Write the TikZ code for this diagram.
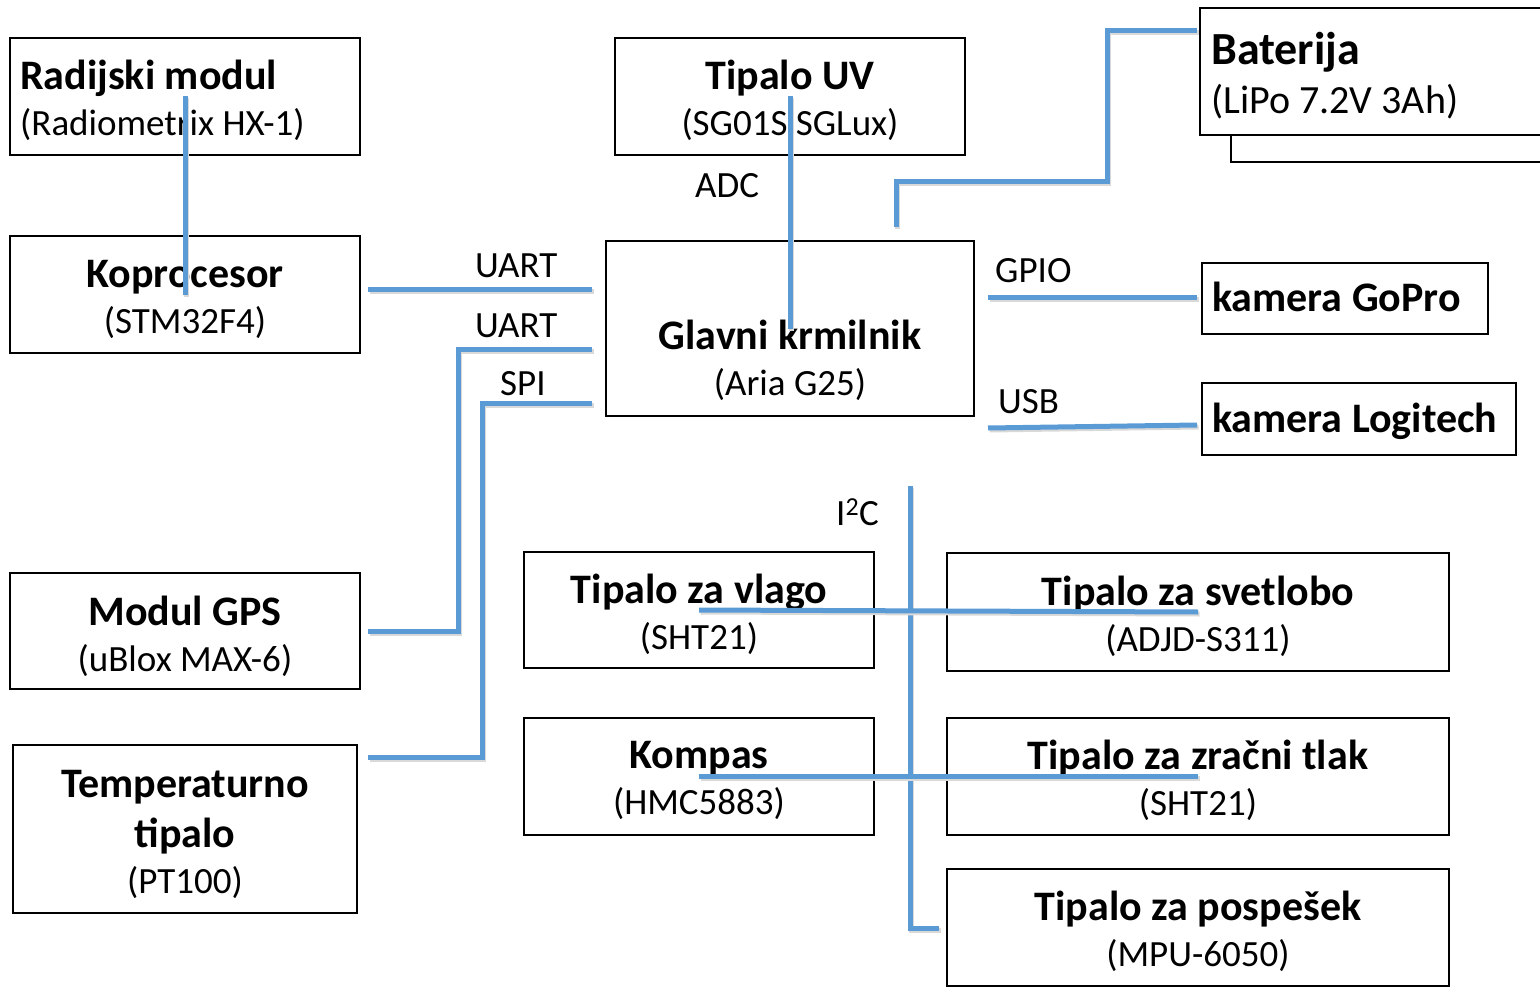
\documentclass[tikz,border=0pt]{standalone}
\usepackage{fontspec}
\setmainfont{Carlito}
\usetikzlibrary{calc}
\definecolor{busblue}{HTML}{5B9BD5}
\newcommand{\bt}{\fontsize{42}{46}\selectfont\bfseries}
\newcommand{\rt}{\fontsize{37}{46}\selectfont}
\newcommand{\btb}{\fontsize{46}{49}\selectfont\bfseries}
\newcommand{\rtb}{\fontsize{40}{49}\selectfont}
\begin{document}
\begin{tikzpicture}[x=1pt,y=-1pt,
  box/.style={draw=black,line width=2pt,rectangle,inner sep=0pt,fill=white},
  txt/.style={inner sep=0pt,align=center,font=\rt},
  lbl/.style={inner sep=0pt,anchor=base west,font=\rt},
  link/.style={draw=busblue,line width=5pt,
    preaction={draw=black!15,line width=5pt,transform canvas={shift={(1.5pt,-2pt)}}}}]
\useasboundingbox (0,0) rectangle (1540,987);

% boxes
\node[box,minimum width=319,minimum height=132] (batb) at (1390.5,96) {};
\node[box,minimum width=350,minimum height=127] (bat) at (1375,71.5) {};
\node[box,minimum width=350,minimum height=117] (rad) at (185,96.5) {};
\node[box,minimum width=350,minimum height=117] (kop) at (185,294.5) {};
\node[box,minimum width=350,minimum height=117] (uv) at (790,96.5) {};
\node[box,minimum width=368,minimum height=175] (glv) at (790,328.5) {};
\node[box,minimum width=286,minimum height=71] (gopro) at (1345,298.5) {};
\node[box,minimum width=314,minimum height=72] (logi) at (1359,419) {};
\node[box,minimum width=350,minimum height=116] (gps) at (185,631) {};
\node[box,minimum width=344,minimum height=168] (temp) at (185,829) {};
\node[box,minimum width=350,minimum height=116] (vlg) at (699,610) {};
\node[box,minimum width=502,minimum height=118] (svt) at (1198,612) {};
\node[box,minimum width=350,minimum height=117] (kmp) at (699,776.5) {};
\node[box,minimum width=502,minimum height=117] (zrk) at (1198,776.5) {};
\node[box,minimum width=502,minimum height=117] (psp) at (1198,927.5) {};

% box texts
\node[txt,anchor=west,align=left] (radt) at (20,100) {{\bt Radijski modul}\\{\rt (Radiometrix HX-1)}};
\node[txt] (kopt) at (185,299) {{\bt Koprocesor}\\{\rt (STM32F4)}};
\node[txt] (uvt) at (790,100) {{\bt Tipalo UV}\\{\rt (SG01S SGLux)}};
\node[txt] (glvt) at (790,360) {{\bt Glavni krmilnik}\\{\rt (Aria G25)}};
\node[txt,font=\rtb,anchor=west,align=left] (batt) at (1211,76) {{\btb Baterija}\\{\rtb (LiPo 7.2V 3Ah)}};
\node[inner sep=0pt,anchor=base west,font=\bt] (goprot) at (1212,312) {kamera GoPro};
\node[inner sep=0pt,anchor=base west,font=\bt] (logit) at (1212,432) {kamera Logitech};
\node[txt] (gpst) at (185,636) {{\bt Modul GPS}\\{\rt (uBlox MAX-6)}};
\node[txt] (tempt) at (185,834) {{\bt Temperaturno}\\[4pt]{\bt tipalo}\\{\rt (PT100)}};
\node[txt] (vlgt) at (699,614) {{\bt Tipalo za vlago}\\{\rt (SHT21)}};
\node[txt] (svtt) at (1198,616) {{\bt Tipalo za svetlobo}\\{\rt (ADJD-S311)}};
\node[txt] (kmpt) at (699,780) {{\bt Kompas}\\{\rt (HMC5883)}};
\node[txt] (zrkt) at (1198,780) {{\bt Tipalo za zračni tlak}\\{\rt (SHT21)}};
\node[txt] (pspt) at (1198,931) {{\bt Tipalo za pospešek}\\{\rt (MPU-6050)}};

% bus labels
\node[lbl] (adc) at (695,198) {ADC};
\node[lbl] (uart1) at (475,277) {UART};
\node[lbl] (uart2) at (475,337) {UART};
\node[lbl] (spi) at (500,395) {SPI};
\node[lbl] (gpio) at (995,283) {GPIO};
\node[lbl] (usb) at (998,413) {USB};
\node[lbl] (i2c) at (836,525) {I\textsuperscript{2}C};

% connectors
\draw[link] (rad.center) -- (kop.center);
\draw[link] (uv.center) -- (glv.center);
\draw[link] ($(kop.east)+(7,-5.5)$) -- ($(glv.west)+(-13,-39.5)$);
\draw[link] ($(glv.west)+(-13,20.5)$) -| ($(gps.east)+(97,0)$) -- ($(gps.east)+(7,0)$);
\draw[link] ($(glv.west)+(-13,74.5)$) -| ($(temp.east)+(124,-72)$) -- ($(temp.east)+(10,-72)$);
\draw[link] ($(glv.north)+(106,-13)$) -- ++(0,-45) -| ($(bat.west)+(-92,-40.5)$) -- ($(bat.west)+(-2,-40.5)$);
\draw[link] ($(glv.east)+(13,-31.5)$) -- ($(gopro.west)+(-4,-1.5)$);
\draw[link] ($(glv.east)+(13,99.5)$) -- ($(logi.west)+(-4,6)$);
\draw[link] ($(psp.west)+(-36,-441.5)$) |- ($(psp.west)+(-7,0.5)$);
\draw[link] (vlg.center) -- (svt.center);
\draw[link] (kmp.center) -- (zrk.center);
\end{tikzpicture}
\end{document}
